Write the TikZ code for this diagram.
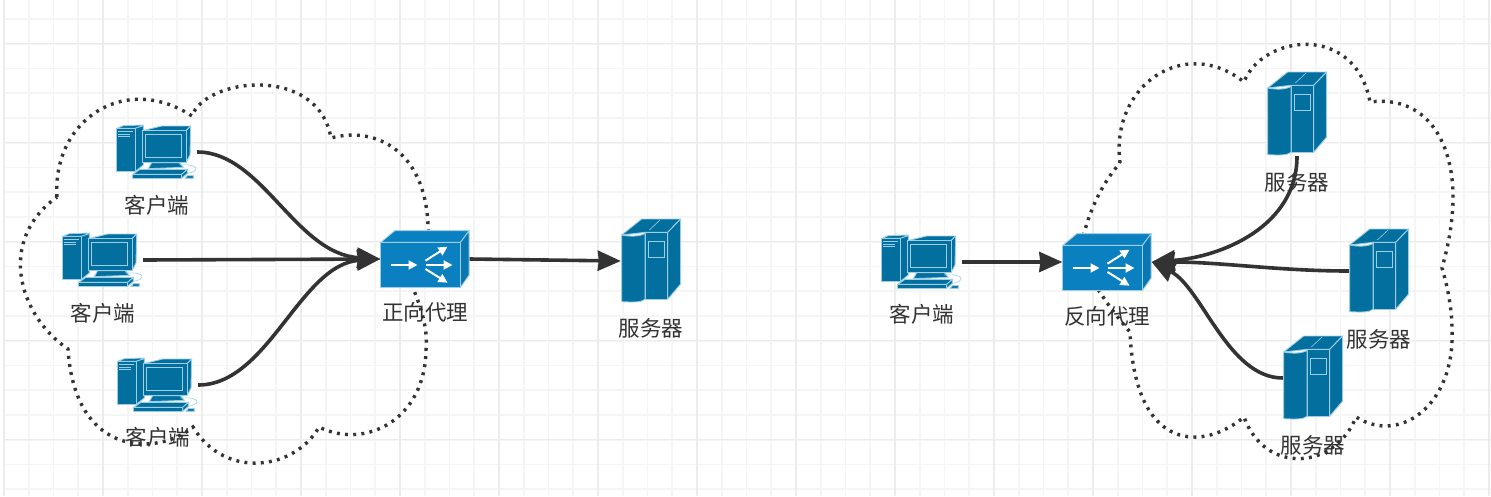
\documentclass[tikz,border=0pt]{standalone}
\usepackage{fontspec}
\setmainfont{Noto Sans CJK SC}
\usepackage{tikz}
\usetikzlibrary{arrows.meta,positioning}

\definecolor{inkgray}{HTML}{333333}
\definecolor{gridminor}{HTML}{F5F5F5}
\definecolor{gridmajor}{HTML}{ECECEC}
\definecolor{icondark}{HTML}{036F9F}
\definecolor{iconblue}{HTML}{0A80C1}
\definecolor{iconside}{HTML}{0A76B2}
\definecolor{iconedge}{HTML}{9CCFE6}

\tikzset{
    compbox/.style={inner sep=0pt,minimum width=80pt,minimum height=56pt},
    servbox/.style={inner sep=0pt,minimum width=60pt,minimum height=84pt},
    proxybox/.style={inner sep=0pt,minimum width=89pt,minimum height=57pt},
    lbl/.style={inner sep=0pt,text=inkgray,font=\fontsize{21.5pt}{23pt}\selectfont},
    cloudline/.style={draw=inkgray,line width=3.4pt,dash pattern=on 2.9pt off 5.3pt},
    link/.style={draw=inkgray,line width=3.6pt,-{Stealth[length=23pt,width=20pt,inset=1pt]}},
    iconpart/.style={fill=icondark,draw=iconedge,line width=.9pt,line join=round},
    proxypart/.style={fill=iconblue,draw=iconedge,line width=.9pt,line join=round},
    whitearrow/.style={draw=white,line width=2pt,-{Triangle[length=9pt,width=9pt]}},
    computer/.pic={
        \begin{scope}[x=.3333pt,y=-.3333pt,shift={(-171,-126)}]
        % tower
        \filldraw[iconpart] (50,55) -- (70,47) -- (130,45) -- (110,55) -- cycle;
        \filldraw[iconpart] (105,55) -- (130,47) -- (130,165) -- (105,185) -- cycle;
        \filldraw[iconpart] (50,55) -- (105,55) -- (105,185) -- (50,185) -- cycle;
        \draw[iconedge,line width=.6pt] (55,65) -- (98,65) (55,72) -- (90,72) (55,79) -- (90,79);
        % monitor
        \filldraw[iconpart] (128,62) -- (185,48) -- (272,48) -- (258,62) -- cycle;
        \filldraw[iconpart] (258,62) -- (272,48) -- (270,135) -- (258,158) -- cycle;
        \filldraw[iconpart] (128,62) rectangle (258,158);
        \draw[iconedge,line width=.9pt] (136,72) rectangle (245,143);
        % stand and keyboard
        \filldraw[iconpart] (155,158) -- (238,158) -- (250,172) -- (145,176) -- cycle;
        \draw[iconedge,line width=.6pt] (238,165) .. controls (300,160) and (300,185) .. (262,190);
        \filldraw[iconpart] (120,178) -- (262,178) -- (245,193) -- (98,193) -- cycle;
        \filldraw[iconpart] (245,193) -- (262,178) -- (262,190) -- (245,205) -- cycle;
        \filldraw[iconpart] (98,193) rectangle (245,205);
        \filldraw[iconpart] (255,205) -- (262,197) -- (280,197) -- (280,205) -- cycle;
        \end{scope}
    },
    server/.pic={
        \begin{scope}[x=.3333pt,y=-.3333pt,shift={(-153,-168)}]
        \filldraw[iconpart] (65,90) -- (125,42) -- (242,42) -- (203,82) -- (135,82) -- cycle;
        \filldraw[iconpart] (203,82) -- (242,42) -- (242,237) -- (203,283) -- cycle;
        \filldraw[iconpart] (135,82) rectangle (203,283);
        \filldraw[iconpart] (65,90) .. controls (90,95) and (120,95) .. (135,85) -- (135,283)
            .. controls (125,292) and (100,292) .. (65,290) -- cycle;
        \draw[iconedge,line width=.9pt] (145,110) rectangle (193,157);
        \draw[iconedge,line width=.6pt] (148,75) -- (180,45);
        \end{scope}
    },
    proxy/.pic={
        \begin{scope}[x=.3333pt,y=-.3333pt,shift={(-165.5,-132)}]
        \filldraw[proxypart] (33,82) -- (75,47) -- (298,47) -- (272,82) -- cycle;
        \filldraw[proxypart,fill=iconside] (272,82) -- (298,47) -- (298,180) -- (272,217) -- cycle;
        \filldraw[proxypart] (33,82) rectangle (272,217);
        \draw[whitearrow] (63,150) -- (143,150);
        \draw[whitearrow] (167,137) -- (233,95);
        \draw[whitearrow] (167,150) -- (248,150);
        \draw[whitearrow] (167,162) -- (233,203);
        \end{scope}
    }
}

\begin{document}
\begin{tikzpicture}[x=1pt,y=-1pt]

\useasboundingbox (0,0) rectangle (1491,496);
\fill[white] (0,0) rectangle (1491,496);

% grid
\foreach \k in {0,...,60} {
    \draw[gridminor,line width=1.6pt] ({4+24.75*\k},0) -- ({4+24.75*\k},496);
}
\foreach \k in {0,...,19} {
    \draw[gridminor,line width=1.6pt] (4,{19+24.75*\k}) -- (1491,{19+24.75*\k});
}
\foreach \k in {0,...,15} {
    \draw[gridmajor,line width=1.8pt] ({4+99*\k},0) -- ({4+99*\k},496);
}
\foreach \k in {0,...,4} {
    \draw[gridmajor,line width=1.8pt] (4,{43.5+99*\k}) -- (1491,{43.5+99*\k});
}

% left cloud
\draw[cloudline] (57,197)
    .. controls (52,120) and (125,72) .. (192,116)
    .. controls (205,78) and (318,64) .. (331,138)
    .. controls (375,126) and (425,150) .. (428,225)
    .. controls (430,250) and (420,275) .. (413,288)
    .. controls (422,310) and (428,330) .. (426,350)
    .. controls (425,420) and (365,450) .. (319,427)
    .. controls (295,470) and (225,480) .. (193,427)
    .. controls (160,455) and (75,460) .. (68,349)
    .. controls (18,315) and (-3,240) .. cycle;

% right cloud
\draw[cloudline] (1120,163)
    .. controls (1110,85) and (1185,35) .. (1244,82)
    .. controls (1262,35) and (1355,22) .. (1370,102)
    .. controls (1425,95) and (1453,140) .. (1453,197)
    .. controls (1453,225) and (1447,250) .. (1442,268)
    .. controls (1448,288) and (1452,310) .. (1452,330)
    .. controls (1455,405) and (1400,445) .. (1356,417)
    .. controls (1335,470) and (1265,475) .. (1244,417)
    .. controls (1205,450) and (1135,455) .. (1130,332)
    .. controls (1118,318) and (1108,305) .. (1100,292)
    .. controls (1090,280) and (1080,270) .. (1076,262)
    .. controls (1080,245) and (1085,230) .. (1088,220)
    .. controls (1095,200) and (1105,180) .. cycle;

% left group
\node[compbox] (C_1) at (157,152) {};
\node[compbox] (C_2) at (103,260) {};
\node[compbox] (C_3) at (158,385) {};
\node[proxybox] (P_1) at (425,259) {};
\node[servbox] (S_1) at (651,261) {};

% right group
\node[compbox] (C_4) at (922,262) {};
\node[proxybox] (P_2) at (1107,262) {};
\node[servbox] (S_2) at (1297,114) {};
\node[servbox] (S_3) at (1379,271) {};
\node[servbox] (S_4) at (1313,378) {};

\foreach \n in {C_1,C_2,C_3,C_4} { \pic at (\n) {computer}; }
\foreach \n in {S_1,S_2,S_3,S_4} { \pic at (\n) {server}; }
\foreach \n in {P_1,P_2} { \pic at (\n) {proxy}; }

\node[lbl,below of=C_1,node distance=53pt] (L_1) {客户端};
\node[lbl,below of=C_2,node distance=53pt] (L_2) {客户端};
\node[lbl,below of=C_3,node distance=52pt] (L_3) {客户端};
\node[lbl,below of=C_4,node distance=52pt] (L_4) {客户端};
\node[lbl,below of=P_1,node distance=53pt] (L_5) {正向代理};
\node[lbl,below of=P_2,node distance=54pt] (L_6) {反向代理};
\node[lbl,below of=S_1,node distance=67pt] (L_7) {服务器};
\node[lbl,below of=S_2,node distance=68pt] (L_8) {服务器};
\node[lbl,below of=S_3,node distance=68pt] (L_9) {服务器};
\node[lbl,below of=S_4,node distance=67pt] (L_10) {服务器};

\path[link] (C_1.east) .. controls +(65,0) and +(-85,-5) .. (P_1.west);
\path[link] (C_2.east) -- (P_1.west);
\path[link] (C_3.east) .. controls +(70,0) and +(-80,5) .. (P_1.west);
\path[link] (P_1.east) -- (S_1.west);
\path[link] (C_4.east) -- (P_2.west);
\path[link] (S_2.south) .. controls +(0,70) and +(70,-5) .. (P_2.east);
\path[link] (S_3.west) .. controls +(-70,0) and +(70,0) .. (P_2.east);
\path[link] (S_4.west) .. controls +(-55,0) and +(50,25) .. (P_2.east);

\end{tikzpicture}
\end{document}
